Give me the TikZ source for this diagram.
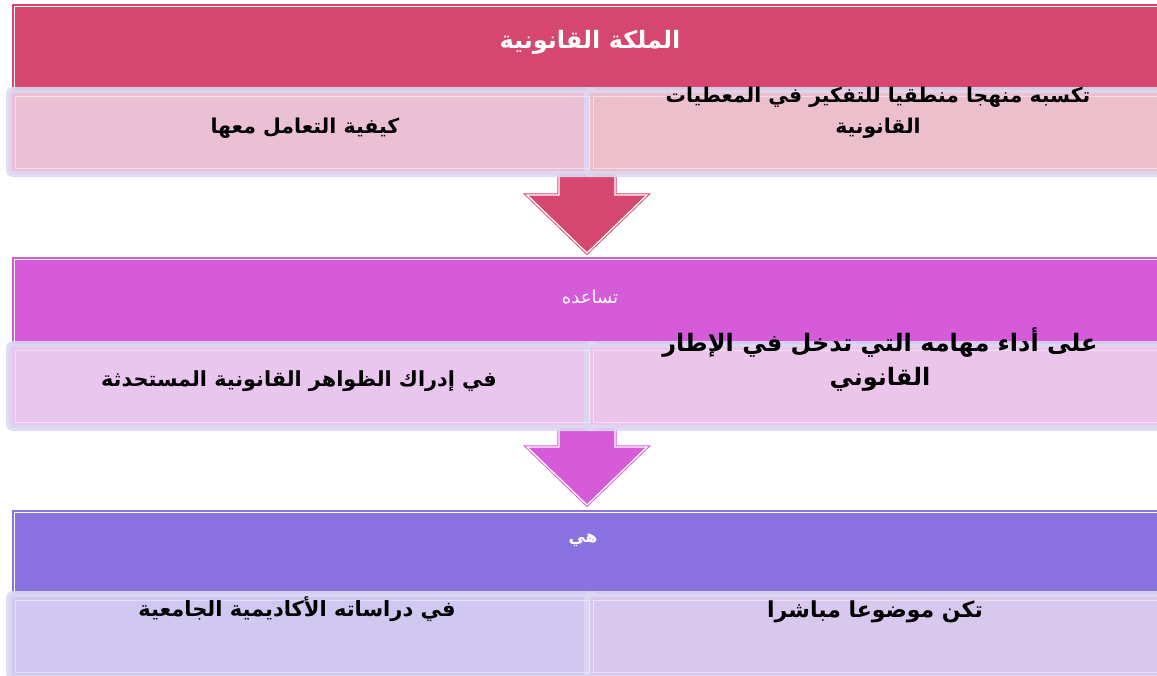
\documentclass[tikz,border=0pt]{standalone}
\usepackage{fontspec}
\TeXXeTstate=1
\newfontfamily\ar[Script=Arabic]{DejaVu Sans}
\usetikzlibrary{calc}
\definecolor{hA}{HTML}{D5476F}
\definecolor{hB}{HTML}{D55BD9}
\definecolor{hC}{HTML}{8A73E0}
\definecolor{sAl}{HTML}{ECC0D4}
\definecolor{sAr}{HTML}{EBBFCB}
\definecolor{sBl}{HTML}{E8C6EE}
\definecolor{sBr}{HTML}{ECC6EA}
\definecolor{sCl}{HTML}{D0C8F0}
\definecolor{sCr}{HTML}{D8C8EE}
\definecolor{lav}{HTML}{DCD8F2}
\begin{document}
\begin{tikzpicture}[x=1pt,y=-1pt,
  header/.style={fill=#1,draw=none,
    minimum width=1180pt,minimum height=90pt,anchor=north west,inner sep=0pt,outer sep=0pt},
  hline/.style={draw=white,line width=1.3pt},
  blockarrow/.style={draw=#1,fill=#1,line width=3.2pt,line join=miter,
    postaction={draw=white,line width=1.3pt,fill=none}},
  subbox/.style={draw=lav,draw opacity=0.9,line width=6pt,rounded corners=4pt,fill=#1,
    minimum height=84pt,anchor=north west,inner sep=0pt},
  inner/.style={draw=white,draw opacity=0.45,line width=0.8pt},
  htext/.style={text=white,inner sep=1pt},
  btext/.style={text=black,align=center,inner sep=1pt}]
\useasboundingbox (0,0) rectangle (1157,675);
\clip (0,0) rectangle (1157,675);
% headers
\node[header=hA] (h1) at (12,4) {};
\node[header=hB] (h2) at (12,257) {};
\node[header=hC] (h3) at (12,510) {};
\foreach \h in {h1,h2,h3}{
  \draw[hline] ($(\h.north west)+(2.6,2.6)$) rectangle ($(\h.south east)+(-2.6,-2.6)$);
}
% arrows
\coordinate (a1) at (587,165);
\coordinate (a2) at (587,418);
\begin{scope}[shift={(a1)}]
\draw[blockarrow=hA] (-28,0) -- (-28,30) -- (-60,30) -- (0,88) -- (60,30) -- (28,30) -- (28,0) -- cycle;
\end{scope}
\begin{scope}[shift={(a2)}]
\draw[blockarrow=hB] (-28,0) -- (-28,29) -- (-60,29) -- (0,87) -- (60,29) -- (28,29) -- (28,0) -- cycle;
\end{scope}
% sub boxes
\node[subbox=sAl,minimum width=586pt] (b1l) at (6,87) {};
\node[subbox=sAr,minimum width=590pt] (b1r) at (584,87) {};
\node[subbox=sBl,minimum width=586pt] (b2l) at (6,341) {};
\node[subbox=sBr,minimum width=590pt] (b2r) at (584,341) {};
\node[subbox=sCl,minimum width=586pt] (b3l) at (6,591) {};
\node[subbox=sCr,minimum width=590pt] (b3r) at (584,591) {};
\foreach \b in {b1l,b1r,b2l,b2r,b3l,b3r}{
  \draw[inner] ($(\b.north west)+(9,9)$) rectangle ($(\b.south east)+(-9,-9)$);
}
% header texts
\node[htext,font=\ar\bfseries\fontsize{24}{28}\selectfont] (t1) at (590,42) {\beginR الملكة القانونية\endR};
\node[htext,font=\ar\fontsize{18}{20}\selectfont] (t2) at (590,297) {\beginR تساعده\endR};
\node[htext,font=\ar\bfseries\fontsize{17}{19}\selectfont] (t3) at (583,540) {\beginR هي\endR};
% box texts
\node[btext,font=\ar\bfseries\fontsize{20.5}{31}\selectfont] (t1l) at (305,128) {\beginR كيفية التعامل معها\endR};
\node[btext,font=\ar\bfseries\fontsize{20.3}{31}\selectfont] (t1r) at (878,113) {\beginR تكسبه منهجا منطقيا للتفكير في المعطيات\endR\\\beginR القانونية\endR};
\node[btext,font=\ar\bfseries\fontsize{24}{34}\selectfont] (t2r) at (880,360) {\beginR على أداء مهامه التي تدخل في الإطار\endR\\\beginR القانوني\endR};
\node[btext,font=\ar\bfseries\fontsize{20.8}{31}\selectfont] (t2l) at (299,381) {\beginR في إدراك الظواهر القانونية المستحدثة\endR};
\node[btext,font=\ar\bfseries\fontsize{21}{31}\selectfont] (t3l) at (297,609) {\beginR في دراساته الأكاديمية الجامعية\endR};
\node[btext,font=\ar\bfseries\fontsize{22}{31}\selectfont] (t3r) at (875,612) {\beginR تكن موضوعا مباشرا\endR};
\end{tikzpicture}
\end{document}
